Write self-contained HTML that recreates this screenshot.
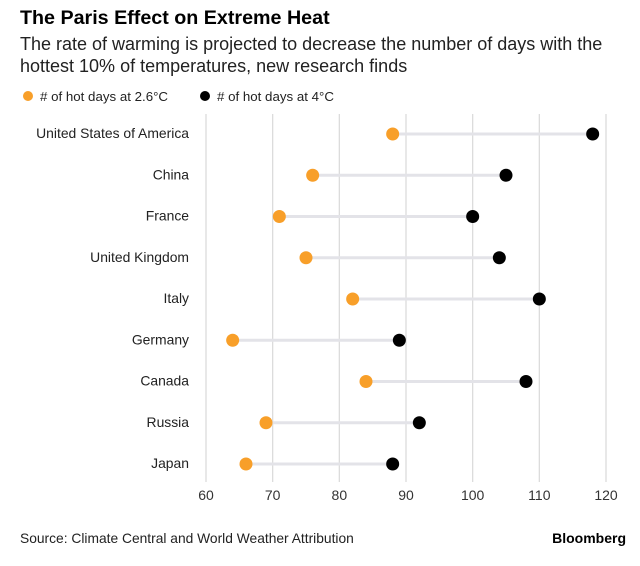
<!DOCTYPE html>
<html><head><meta charset="utf-8"><style>
body{margin:0;background:#fff;font-family:"Liberation Sans",sans-serif;}
#wrap{position:relative;width:640px;height:566px;overflow:hidden;}
.t{position:absolute;white-space:nowrap;color:#000;}
</style></head><body>
<div id="wrap">
<div class="t" style="left:20px;top:7px;font-size:19.7px;font-weight:bold;">The Paris Effect on Extreme Heat</div>
<div class="t" style="left:20px;top:33px;font-size:18px;line-height:22px;color:#222;">The rate of warming is projected to decrease the number of days with the<br>hottest 10% of temperatures, new research finds</div>
<svg id="c" width="640" height="566" style="position:absolute;left:0;top:0"></svg>
<div class="t" style="left:20px;top:531px;font-size:13.8px;color:#222;">Source: Climate Central and World Weather Attribution</div>
<div class="t" style="right:14px;top:530px;font-size:14px;font-weight:bold;">Bloomberg</div>
</div>
<script>
const countries=["United States of America","China","France","United Kingdom","Italy","Germany","Canada","Russia","Japan"];
const low=[88,76,71,75,82,64,84,69,66];
const high=[118,105,100,104,110,89,108,92,88];
const ticks=[60,70,80,90,100,110,120];
const NS="http://www.w3.org/2000/svg";
const svg=document.getElementById('c');
const x=v=>206+(v-60)*(400/60);
const y=i=>134+i*41.25;
function mk(tag,attrs,parent){const e=document.createElementNS(NS,tag);for(const k in attrs)e.setAttribute(k,attrs[k]);(parent||svg).appendChild(e);return e;}
let g=mk('g',{});


let c1=mk('circle',{cx:28,cy:96,r:5,fill:'#f89f29'},g);


let l1=mk('text',{x:40,y:101,'font-size':13.3,fill:'#222'},g);l1.textContent='# of hot days at 2.6°C';


let c2=mk('circle',{cx:205,cy:96,r:5,fill:'#000'},g);


let l2=mk('text',{x:217,y:101,'font-size':13.3,fill:'#222'},g);l2.textContent='# of hot days at 4°C';


ticks.forEach(t=>{
 let l=mk('line',{x1:x(t),x2:x(t),y1:114,y2:482,stroke:'#dcdcdc','stroke-width':1.3});
 
 
 let tx=mk('text',{x:x(t),y:500,'font-size':14,fill:'#333','text-anchor':'middle'});tx.textContent=t;
 
 
});
countries.forEach((c,i)=>{
 let lb=mk('text',{x:189,y:y(i)+4,'font-size':13.9,fill:'#222','text-anchor':'end'});lb.textContent=c;
 
 
 let ln=mk('line',{x1:x(low[i]),x2:x(high[i]),y1:y(i),y2:y(i),stroke:'#e3e3e8','stroke-width':3});
 
 
 let a=mk('circle',{cx:x(low[i]),cy:y(i),r:6.5,fill:'#f89f29'});
 
 
 let b=mk('circle',{cx:x(high[i]),cy:y(i),r:6.5,fill:'#000'});
 
 
});
</script>
</body></html>
